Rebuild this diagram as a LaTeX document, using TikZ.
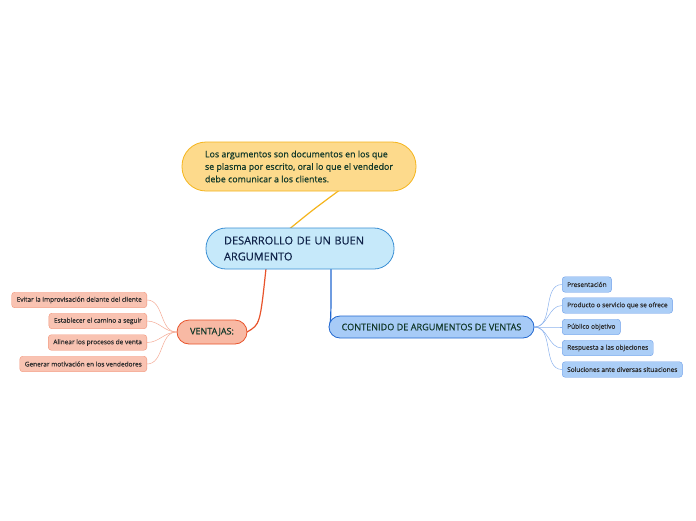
\documentclass[tikz,border=0pt]{standalone}
\usepackage{fontspec}
\setmainfont{Open Sans}[FakeBold=0.6]
\usepackage{xcolor}
\usepackage{tikz}
\usetikzlibrary{positioning, calc}

\definecolor{noteFill}{HTML}{FDDA8C}
\definecolor{noteDraw}{HTML}{F5B51C}
\definecolor{rootFill}{HTML}{C6E9FA}
\definecolor{rootDraw}{HTML}{3B8FD4}
\definecolor{ventFill}{HTML}{F8B9A4}
\definecolor{ventDraw}{HTML}{E8532B}
\definecolor{ventLeaf}{HTML}{F3957A}
\definecolor{contFill}{HTML}{A7CBF7}
\definecolor{contDraw}{HTML}{2268D0}
\definecolor{contLeaf}{HTML}{6FA0EA}
\definecolor{txtGreen}{HTML}{12392A}
\definecolor{txtNavy}{HTML}{10244A}
\definecolor{txtGray}{HTML}{2E2E2E}

\begin{document}
\begin{tikzpicture}[x=1pt, y=-1pt,
        pill/.style={rectangle, rounded corners=#1, thick, inner sep=0pt},
        note/.style={pill=24pt, draw=noteDraw, fill=noteFill, text=txtGreen, minimum width=234pt, minimum height=49pt, align=left, font=\fontsize{8.85}{12.5}\selectfont},
        root/.style={pill=20pt, draw=rootDraw, fill=rootFill, text=txtNavy, minimum height=41pt, text width=152pt, inner xsep=18pt, align=left, font=\fontsize{11}{16}\selectfont},
        ventajas/.style={pill=12pt, draw=ventDraw, fill=ventFill, text=txtGreen, minimum width=70pt, minimum height=24pt, font=\fontsize{9}{10}\selectfont},
        contenido/.style={pill=11pt, draw=contDraw, fill=contFill, text=txtGreen, minimum width=205pt, minimum height=22pt, font=\fontsize{9.1}{10}\selectfont},
        vleaf/.style={rectangle, rounded corners=3pt, draw=ventLeaf, fill=ventFill!85!white, text=txtGray, thin, minimum height=15.5pt, inner xsep=5pt, inner ysep=0pt, font=\fontsize{6.5}{7}\selectfont},
        cleaf/.style={rectangle, rounded corners=3pt, draw=contLeaf, fill=contFill!95!white, text=txtGray, thin, minimum height=15.5pt, inner xsep=5pt, inner ysep=0pt, font=\fontsize{6.5}{7}\selectfont},
        vline/.style={draw=ventLeaf!80!white, line width=0.5pt},
        cline/.style={draw=contLeaf!80!white, line width=0.5pt}
    ]
        \useasboundingbox[fill=white] (0,0) rectangle (696,520);

        % Connectors of the main branches first
        \coordinate (rootc) at (300,248.5);
        \coordinate (ventc) at (212,332);
        \coordinate (contc) at (431.5,327);
        \coordinate (notec) at (299,166.5);

        \draw[noteDraw, line width=1.2pt] ($(rootc)+(-10,-20)$) .. controls ($(rootc)+(12,-38)$) .. ($(notec)+(40,24)$);
        \draw[ventDraw, line width=1.2pt] ($(rootc)+(-34,20)$) .. controls ($(rootc)+(-40,76)$) .. ($(ventc)+(35,0)$);
        \draw[contDraw, line width=1.2pt] ($(rootc)+(31,20)$) .. controls ($(rootc)+(31,70)$) .. ($(contc)+(-102,0)$);

        \node[note] (nota) at (notec) {Los argumentos son documentos en los que\\se plasma por escrito, oral lo que el vendedor\\debe comunicar a los clientes.};
        \node[root] (desarrollo) at (rootc) {DESARROLLO DE UN BUEN\\ARGUMENTO};
        \node[ventajas] (ventajas) at (ventc) {VENTAJAS:};
        \node[contenido] (contenido) at (contc) {CONTENIDO DE ARGUMENTOS DE VENTAS};

        % Ventajas
        \node[vleaf, anchor=east] (evitar) at (147,300) {Evitar la improvisación delante del cliente};
        \node[vleaf, anchor=east] (camino) at (147,321) {Establecer el camino a seguir};
        \node[vleaf, anchor=east] (alinear) at (147,342.5) {Alinear los procesos de venta};
        \node[vleaf, anchor=east] (motivar) at (147,364) {Generar motivación en los vendedores};

        \foreach \leaf in {evitar, camino, alinear, motivar}
            \draw[vline] (ventajas.west) to[out=180, in=0] (\leaf.east);

        % Contenido
        \node[cleaf, anchor=west] (presentacion) at (562,284.5) {Presentación};
        \node[cleaf, anchor=west] (producto) at (562,305.5) {Producto o servicio que se ofrece};
        \node[cleaf, anchor=west] (publico) at (562,327) {Público objetivo};
        \node[cleaf, anchor=west] (respuesta) at (562,348) {Respuesta a las objeciones};
        \node[cleaf, anchor=west] (soluciones) at (562,369.5) {Soluciones ante diversas situaciones};

        \foreach \leaf in {presentacion, producto, publico, respuesta, soluciones}
            \draw[cline] (contenido.east) to[out=0, in=180] (\leaf.west);

    \end{tikzpicture}
\end{document}
